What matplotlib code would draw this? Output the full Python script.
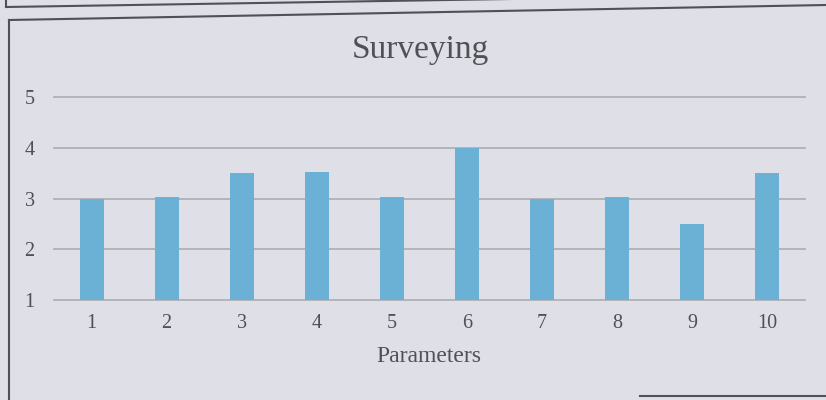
import matplotlib
matplotlib.use("Agg")
import matplotlib.pyplot as plt
from matplotlib.lines import Line2D

categories = ["1", "2", "3", "4", "5", "6", "7", "8", "9", "10"]
values = [3.0, 3.02, 3.5, 3.53, 3.03, 4.0, 3.0, 3.02, 2.5, 3.5]
y_ticks = [1, 2, 3, 4, 5]
title = "Surveying"
x_label = "Parameters"

bg = "#dedfe7"
bar_color = "#6bb1d6"
text_color = "#505055"
grid_color = "#b0b0b7"
frame_color = "#505055"
serif = ["Liberation Serif", "DejaVu Serif"]

fig = plt.figure(figsize=(8.26, 4.0), dpi=100, facecolor=bg)

def fx(px):
    return px / 826

def fy(py):
    return 1 - py / 400

# frame lines of the photographed page
fig.add_artist(Line2D([fx(6), fx(6)], [1.0, fy(7)], color=frame_color, lw=1.5))
fig.add_artist(Line2D([fx(6), fx(826)], [fy(7), fy(-6)], color=frame_color, lw=1.5))
fig.add_artist(Line2D([fx(9), fx(826)], [fy(20), fy(5)], color=frame_color, lw=1.5))
fig.add_artist(Line2D([fx(9), fx(9)], [fy(20), 0.0], color=frame_color, lw=1.5))
fig.add_artist(Line2D([fx(640), fx(826)], [fy(396), fy(396)], color=frame_color, lw=1.5))

ax = fig.add_axes([fx(54), 0.25, 751 / 826, 0.5075])
ax.set_facecolor(bg)
x = list(range(len(categories)))
ax.bar(x, values, width=0.32, color=bar_color, zorder=3)
ax.set_xlim(-0.5, len(categories) - 0.5)
ax.set_ylim(1, 5)
ax.set_yticks(y_ticks)
ax.set_xticks(x)
ax.set_xticklabels(categories)
ax.grid(axis="y", color=grid_color, lw=1.3, zorder=1)
for g in ax.get_ygridlines():
    g.set_clip_on(False)
ax.tick_params(length=0, labelsize=14.5, labelcolor=text_color)
ax.tick_params(axis="y", pad=14)
ax.tick_params(axis="x", pad=10)
for lbl in ax.get_xticklabels() + ax.get_yticklabels():
    lbl.set_family(serif)
for s in ax.spines.values():
    s.set_visible(False)

fig.text(fx(420), fy(50), title, ha="center", va="center",
         fontsize=24, color=text_color, family=serif)
fig.text(fx(429), fy(357), x_label, ha="center", va="center",
         fontsize=17, color=text_color, family=serif)

fig.savefig("out.png", dpi=100, facecolor=bg)
